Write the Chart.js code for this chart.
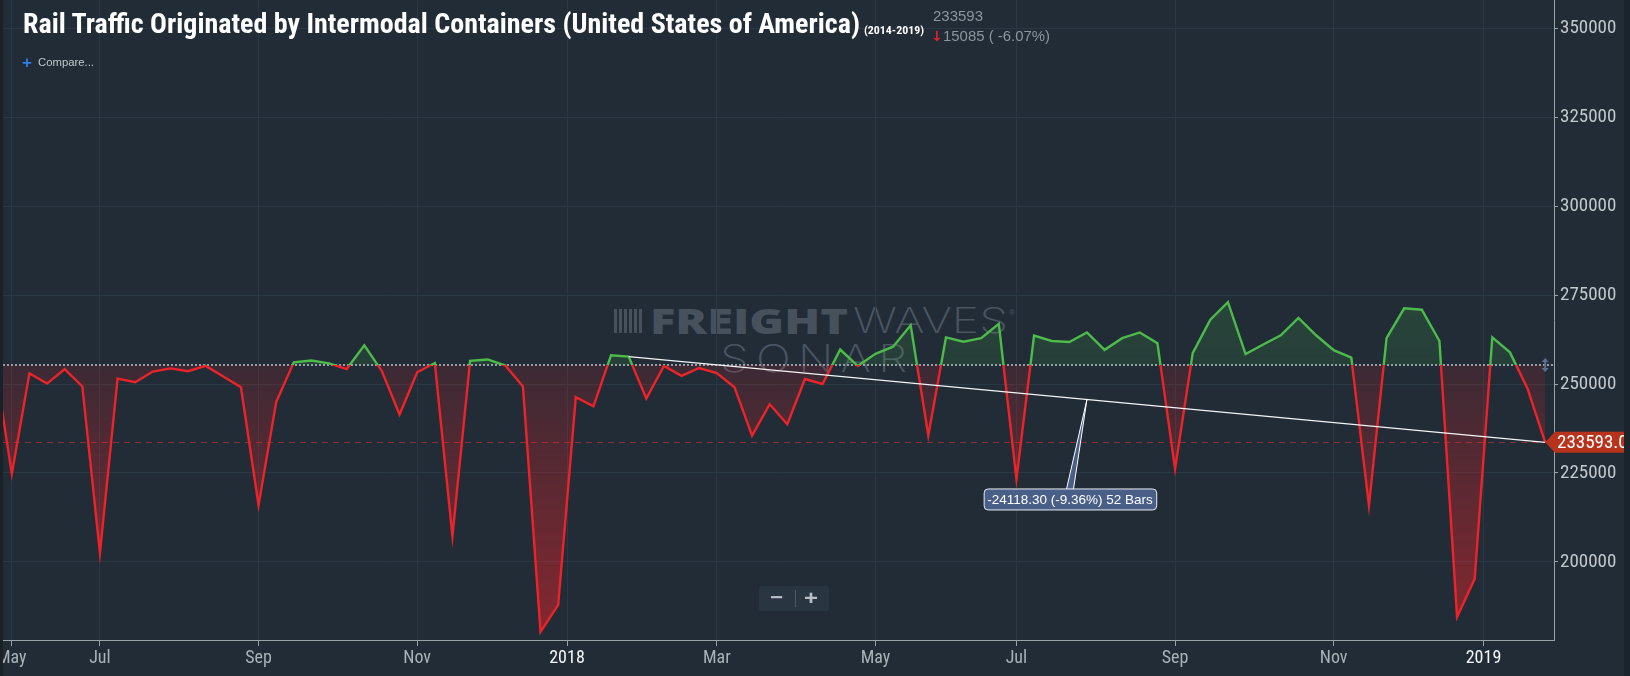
<!DOCTYPE html>
<html>
<head>
<meta charset="utf-8">
<title>Rail Traffic Originated by Intermodal Containers</title>
<script src="https://cdn.jsdelivr.net/npm/chart.js@4.4.1/dist/chart.umd.min.js"></script>
<style>
  html, body { margin:0; padding:0; width:1630px; height:676px; overflow:hidden; background:#212c37; }
  #stage { position:relative; width:1630px; height:676px; }
  #chart { position:absolute; left:0; top:0; z-index:2; }
  .t { position:absolute; white-space:nowrap; transform-origin:0 0; }
  .wm { z-index:1; }
  .ui { z-index:3; }
  #stripL { position:absolute; left:0; top:0; width:3px; height:676px; background:#1a2129; z-index:5; }
  #stripR { position:absolute; left:1624px; top:0; width:6px; height:676px; background:#1b232b; z-index:5; }
  #logo { position:absolute; z-index:1; left:614px; top:309px; width:28px; height:24px;
          background:repeating-linear-gradient(90deg,#46515c 0 3px,transparent 3px 5px); }
  #zoombox { position:absolute; z-index:3; left:759px; top:586px; width:70px; height:25px; background:#2a3542; border-radius:3px; }
  #zoomdiv { position:absolute; z-index:4; left:795px; top:590px; width:1px; height:17px; background:#4d5864; }
</style>
</head>
<body>
<div id="stage">
  <canvas id="chart" width="1630" height="676"></canvas>
  <div id="logo"></div>
  <div id="zoombox"></div>
  <div id="zoomdiv"></div>
  <div id="stripL"></div>
  <div id="stripR"></div>
</div>
<script>
// ---------------- data ----------------
const TITLE = 'Rail Traffic Originated by Intermodal Containers (United States of America)';
const TITLE_RANGE = '(2014-2019)';
const FIRST_WEEK_INDEX = -1;           // first value sits one week left of the visible window
const VALUES = [
  257100, 224700, 253000, 250100, 254200, 249300, 202500, 251500, 250500, 253500,
  254400, 253600, 255100, 252100, 249100, 215900, 244900, 256100, 256600, 255800,
  254200, 260900, 253600, 241400, 253300, 255900, 207200, 256500, 256900, 255200,
  249300, 180300, 187900, 246300, 243700, 258100, 257711.3, 245900, 255100, 252300,
  254500, 253100, 249100, 235500, 244300, 238700, 251400, 250000, 259700, 255100,
  258500, 260500, 266500, 235500, 263100, 261900, 262900, 266900, 223300, 263600,
  262100, 261800, 264500, 259600, 262900, 264500, 261500, 226100, 258700, 268100,
  273000, 258400, 261100, 263700, 268600, 263700, 259500, 257400, 215800, 262900,
  271300, 270900, 262100, 184500, 195200, 263100, 258900, 248678, 233593
];
const X_TICK_POS = [0, 5, 14, 23, 31.5, 40, 49, 57, 66, 75, 83.5];
const X_TICK_LABELS = ['May', 'Jul', 'Sep', 'Nov', '2018', 'Mar', 'May', 'Jul', 'Sep', 'Nov', '2019'];
const Y_TICKS = [200000, 225000, 250000, 275000, 300000, 325000, 350000];
const BASELINE = 255330;
const TREND_FROM = 35, TREND_TO = 87;

// ---------------- styles ----------------
const UP = '#4cbb49', DOWN = '#ec2329';
const GRID = '#2a3744', AXIS = '#9aa1a8';

function pickFont(cands, fallback) {
  const c = document.createElement('canvas').getContext('2d');
  for (const f of cands) {
    c.font = '40px monospace'; const w0 = c.measureText('350000 Mar Sep').width;
    c.font = `40px "${f}", monospace`; const w1 = c.measureText('350000 Mar Sep').width;
    if (Math.abs(w1 - w0) > 0.5) return { fam: `"${f}"`, narrow: true };
  }
  return { fam: fallback, narrow: false };
}
const NARROW = pickFont(['Liberation Sans Narrow', 'Arial Narrow', 'Roboto Condensed', 'DejaVu Sans Condensed'], '"Liberation Sans", Arial');
const AX_FAM = NARROW.fam + ', "Liberation Sans", Arial, sans-serif';
const AX_Y_SIZE = NARROW.narrow ? 19 : 15.5;
const AX_X_SIZE = NARROW.narrow ? 18 : 15;

const pts = VALUES.map((v, i) => ({ x: i + FIRST_WEEK_INDEX, y: v }));
const LAST = VALUES[VALUES.length - 1];
const PREV = VALUES[VALUES.length - 2];
const valueAt = idx => VALUES[idx - FIRST_WEEK_INDEX];

function splitGrad(chart, topC, baseAbove, baseBelow, botC) {
  const a = chart.chartArea;
  const yb = chart.scales.y.getPixelForValue(BASELINE);
  const f = Math.min(1, Math.max(0, (yb - a.top) / (a.bottom - a.top)));
  const g = chart.ctx.createLinearGradient(0, a.top, 0, a.bottom);
  g.addColorStop(0, topC); g.addColorStop(f, baseAbove);
  g.addColorStop(f, baseBelow); g.addColorStop(1, botC);
  return g;
}
function lineColor(ctx) {
  if (!ctx.chart.chartArea) return DOWN;
  return splitGrad(ctx.chart, UP, UP, DOWN, DOWN);
}
function fillColor(ctx) {
  if (!ctx.chart.chartArea) return 'rgba(0,0,0,0)';
  return splitGrad(ctx.chart, 'rgba(76,187,73,0.45)', 'rgba(76,187,73,0.13)',
                   'rgba(237,35,40,0.13)', 'rgba(237,35,40,0.50)');
}

function roundRect(ctx, x, y, w, h, r) {
  ctx.beginPath();
  ctx.moveTo(x + r, y); ctx.lineTo(x + w - r, y); ctx.quadraticCurveTo(x + w, y, x + w, y + r);
  ctx.lineTo(x + w, y + h - r); ctx.quadraticCurveTo(x + w, y + h, x + w - r, y + h);
  ctx.lineTo(x + r, y + h); ctx.quadraticCurveTo(x, y + h, x, y + h - r);
  ctx.lineTo(x, y + r); ctx.quadraticCurveTo(x, y, x + r, y); ctx.closePath();
}

const overlays = {
  id: 'overlays',
  beforeDatasetsDraw(chart) {
    const { ctx, chartArea: a } = chart; const y = chart.scales.y;
    ctx.save();
    ctx.beginPath(); ctx.rect(a.left, a.top, a.right - a.left, a.bottom - a.top); ctx.clip();
    const yl = Math.round(y.getPixelForValue(LAST)) + 0.5;
    ctx.setLineDash([6, 5]); ctx.lineWidth = 1; ctx.strokeStyle = '#8a2f37';
    ctx.beginPath(); ctx.moveTo(a.left, yl); ctx.lineTo(a.right, yl); ctx.stroke();
    const yb = Math.round(y.getPixelForValue(BASELINE));
    ctx.setLineDash([2, 2]); ctx.lineWidth = 2; ctx.strokeStyle = '#96a0aa';
    ctx.beginPath(); ctx.moveTo(a.left, yb); ctx.lineTo(a.right, yb); ctx.stroke();
    ctx.restore();
  },
  afterDatasetsDraw(chart) {
    const { ctx, chartArea: a } = chart; const x = chart.scales.x, y = chart.scales.y;
    const vFrom = valueAt(TREND_FROM), vTo = valueAt(TREND_TO);
    const x1 = x.getPixelForValue(TREND_FROM), y1 = y.getPixelForValue(vFrom);
    const x2 = x.getPixelForValue(TREND_TO), y2 = y.getPixelForValue(vTo);
    ctx.save();
    // trend line
    ctx.strokeStyle = '#f4f4f4'; ctx.lineWidth = 1.4;
    ctx.beginPath(); ctx.moveTo(x1, y1); ctx.lineTo(x2, y2); ctx.stroke();
    // callout
    const d = vTo - vFrom, pct = d / vFrom * 100, bars = TREND_TO - TREND_FROM;
    const label = `${d.toFixed(2)} (${pct.toFixed(2)}%) ${bars} Bars`;
    ctx.font = '13.5px "Liberation Sans", Arial, sans-serif';
    const tw = ctx.measureText(label).width;
    const bw = tw + 7, bh = 21;
    const xm = (x1 + x2) / 2, ym = (y1 + y2) / 2;
    const bcx = xm - 17, btop = ym + 89;
    ctx.beginPath(); ctx.moveTo(bcx - 3.5, btop + 1); ctx.lineTo(xm, ym); ctx.lineTo(bcx + 3.5, btop + 1); ctx.closePath();
    ctx.fillStyle = '#4a5f88'; ctx.fill(); ctx.strokeStyle = '#ffffff'; ctx.lineWidth = 1; ctx.stroke();
    roundRect(ctx, bcx - bw / 2 + 0.5, btop + 0.5, bw, bh, 4);
    ctx.fillStyle = '#4a5f88'; ctx.fill(); ctx.strokeStyle = '#e8ecf2'; ctx.lineWidth = 1; ctx.stroke();
    ctx.fillStyle = '#ffffff'; ctx.textAlign = 'center'; ctx.textBaseline = 'middle';
    ctx.fillText(label, bcx, btop + bh / 2 + 1);
    // baseline handle
    const xl = x.getPixelForValue(TREND_TO);
    const yb = y.getPixelForValue(BASELINE);
    ctx.fillStyle = '#5b6f8e';
    ctx.beginPath(); ctx.moveTo(xl, yb - 7); ctx.lineTo(xl - 3.5, yb - 3); ctx.lineTo(xl + 3.5, yb - 3); ctx.closePath(); ctx.fill();
    ctx.beginPath(); ctx.moveTo(xl, yb + 7); ctx.lineTo(xl - 3.5, yb + 3); ctx.lineTo(xl + 3.5, yb + 3); ctx.closePath(); ctx.fill();
    ctx.fillRect(xl - 1, yb - 4, 2, 8);
    // price tag
    const yp = y.getPixelForValue(LAST);
    const xp = x.getPixelForValue(pts[pts.length - 1].x);
    ctx.beginPath(); ctx.moveTo(xp, yp); ctx.lineTo(a.right + 1, yp - 10.5); ctx.lineTo(chart.width, yp - 10.5);
    ctx.lineTo(chart.width, yp + 10.5); ctx.lineTo(a.right + 1, yp + 10.5); ctx.closePath();
    ctx.fillStyle = '#b8331c'; ctx.fill();
    ctx.fillStyle = '#ffffff'; ctx.textAlign = 'left'; ctx.textBaseline = 'middle';
    ctx.font = `${AX_Y_SIZE}px ${AX_FAM}`;
    ctx.fillText(LAST.toFixed(1), a.right + 3, yp + 1);
    ctx.restore();
  }
};

const chart = new Chart(document.getElementById('chart'), {
  type: 'line',
  data: {
    datasets: [{
      data: pts,
      borderColor: lineColor,
      backgroundColor: fillColor,
      borderWidth: 2.4,
      pointRadius: 0,
      tension: 0,
      borderJoinStyle: 'miter',
      fill: { value: BASELINE },
      clip: 0
    }]
  },
  options: {
    responsive: false,
    animation: false,
    devicePixelRatio: 1,
    layout: { padding: { left: 3, top: 0, right: 0, bottom: 0 } },
    plugins: { legend: { display: false }, tooltip: { enabled: false }, title: { display: false } },
    scales: {
      x: {
        type: 'linear', min: -0.5, max: 87.5,
        afterBuildTicks: s => { s.ticks = X_TICK_POS.map(v => ({ value: v })); },
        afterFit: s => { s.height = 36; s.paddingLeft = 0; s.paddingRight = 0; },
        grid: { color: GRID, tickColor: AXIS, tickLength: 6, lineWidth: 1 },
        border: { color: AXIS, width: 1 },
        ticks: {
          autoSkip: false, maxRotation: 0, minRotation: 0, padding: 2,
          callback: (v, i) => X_TICK_LABELS[i],
          color: c => /^\d{4}$/.test(X_TICK_LABELS[c.index] || '') ? '#f4f6f8' : '#aab1b8',
          font: { family: AX_FAM, size: AX_X_SIZE }
        }
      },
      y: {
        type: 'linear', position: 'right', min: 178000, max: 358000,
        afterBuildTicks: s => { s.ticks = Y_TICKS.map(v => ({ value: v })); },
        afterFit: s => { s.width = 76; s.paddingTop = 0; s.paddingBottom = 0; },
        grid: { color: GRID, tickColor: AXIS, tickLength: 4, lineWidth: 1 },
        border: { color: AXIS, width: 1 },
        ticks: { padding: 2, color: '#c3c8cd', font: { family: AX_FAM, size: AX_Y_SIZE }, callback: v => String(v) }
      }
    }
  },
  plugins: [overlays]
});

// ---------------- html text ----------------
const stage = document.getElementById('stage');
const fitters = [];
function addText(str, o) {
  const el = document.createElement('div');
  el.className = 't ' + (o.cls || 'ui');
  el.textContent = str;
  el.style.fontFamily = o.family;
  el.style.fontWeight = o.weight || 400;
  el.style.fontSize = o.size + 'px';
  el.style.lineHeight = o.size + 'px';
  el.style.color = o.color;
  if (o.spacing) el.style.letterSpacing = o.spacing + 'px';
  el.style.left = o.x + 'px';
  el.style.top = (o.base - (o.k || 0.8465) * o.size) + 'px';
  stage.appendChild(el);
  if (o.w) {
    const fit = () => { el.style.transform = 'none'; const w = el.getBoundingClientRect().width - (o.spacing || 0); el.style.transform = `scaleX(${o.w / w})`; };
    fit(); fitters.push(fit);
  }
  return el;
}
const NARROW_FAM = NARROW.fam + ', "Liberation Sans", Arial, sans-serif';
const SANS = '"Liberation Sans", Arial, sans-serif';
const diff = LAST - PREV, diffPct = diff / PREV * 100;

addText(TITLE, { x: 23, base: 34, size: 28, weight: 700, family: NARROW_FAM, color: '#ffffff', w: 837 });
addText(TITLE_RANGE, { x: 864, base: 34, size: 11, weight: 700, family: NARROW_FAM, color: '#ffffff', w: 60 });
addText(String(LAST), { x: 933, base: 21, size: 14, family: SANS, color: '#8d959d', w: 50 });
addText(diff < 0 ? '\u2193' : '\u2191', { x: 931, base: 41, size: 14, weight: 700, family: '"DejaVu Sans", sans-serif', color: diff < 0 ? '#e3222b' : UP });
addText(`${Math.abs(diff)} ( ${diffPct.toFixed(2)}%)`, { x: 943, base: 41, size: 14, family: SANS, color: '#8d959d', w: 107 });
addText('+', { x: 22, base: 68, size: 17, weight: 700, family: SANS, color: '#2f7de1' });
addText('Compare...', { x: 38, base: 66, size: 11, family: SANS, color: '#c2c8ce', w: 56 });
addText('\u2212', { x: 770, base: 604, size: 20, weight: 700, family: SANS, color: '#b7bec5', w: 13 });
addText('+', { x: 804, base: 605, size: 20, weight: 700, family: SANS, color: '#b7bec5', w: 14 });

// watermark
addText('FREIGHT', { cls: 'wm', x: 650, base: 333.5, size: 35, weight: 800, family: '"Open Sans", "DejaVu Sans", sans-serif', color: '#46515c', w: 198, k: 0.87 });
addText('WAVES', { cls: 'wm', x: 853, base: 333.5, size: 35, weight: 200, family: 'Inter, Lato, "Open Sans", sans-serif', color: '#4a5561', w: 155, k: 0.86 });
addText('\u00AE', { cls: 'wm', x: 1009, base: 316, size: 8, family: SANS, color: '#4a5561' });
addText('SONAR', { cls: 'wm', x: 720, base: 372, size: 38, weight: 200, family: 'Inter, Lato, "Open Sans", sans-serif', color: '#4a5561', w: 187, spacing: 6, k: 0.86 });

if (document.fonts && document.fonts.ready) document.fonts.ready.then(() => fitters.forEach(f => f()));
</script>
</body>
</html>
